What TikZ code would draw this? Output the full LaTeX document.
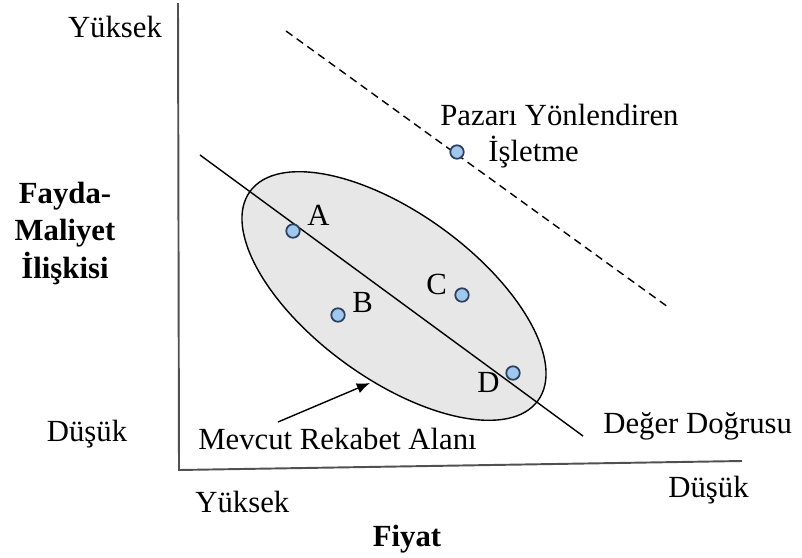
\documentclass[tikz,border=0pt]{standalone}
\usepackage{fontspec}
\setmainfont{Liberation Serif}
\usepackage{tikz}
\usetikzlibrary{positioning, arrows.meta, calc}
\definecolor{noktamavi}{RGB}{160,200,238}
\definecolor{noktakenar}{RGB}{45,65,95}
\definecolor{alangri}{RGB}{231,231,231}
\definecolor{eksengri}{RGB}{80,80,80}

\begin{document}
\begin{tikzpicture}[x=0.02cm, y=-0.02cm,
  yazi/.style={font=\fontsize{17.5}{21}\selectfont, inner sep=0pt},
  kalin/.style={font=\fontsize{17.5}{21.3}\selectfont\bfseries, inner sep=0pt, align=center},
  nokta/.style={circle, draw=noktakenar, fill=noktamavi, line width=1pt, minimum size=0.27cm, inner sep=0pt}]
  \useasboundingbox (0,0) rectangle (802,558);
  \coordinate (yust) at (178,3);
  \coordinate (orijin) at (179,470);
  \coordinate (xsag) at (742,461);
  \draw[eksengri, line width=1.1pt] (yust) -- (orijin) -- (xsag);
  \filldraw[fill=alangri, draw=black, line width=0.8pt, rotate around={-36:(394,296)}] (394,296) ellipse [x radius=3.56cm, y radius=1.66cm];
  \coordinate (dogrubas) at (200,155);
  \coordinate (dogrusonu) at (583,436);
  \draw[line width=0.8pt] (dogrubas) -- (dogrusonu);
  \coordinate (kesikbas) at (286,31);
  \coordinate (kesiksonu) at (668,307);
  \draw[line width=0.8pt, dash pattern=on 4.5pt off 3pt] (kesikbas) -- (kesiksonu);
  \node[nokta] (a) at (293,231) {};
  \node[nokta] (b) at (338,315) {};
  \node[nokta] (c) at (462,295) {};
  \node[nokta] (d) at (513,373) {};
  \node[nokta] (lider) at (457,152) {};
  \node[yazi, anchor=base west] (lblA) at (307,225) {A};
  \node[yazi, anchor=base west] (lblB) at (352,312) {B};
  \node[yazi, anchor=base west] (lblC) at (426,294) {C};
  \node[yazi, anchor=base west] (lblD) at (477,392) {D};
  \node[yazi, anchor=base west] (pazari) at (440,125) {Pazarı Yönlendiren};
  \node[yazi, anchor=base west] (isletme) at (488,161) {İşletme};
  \node[yazi, anchor=base] (yyuksek) at (115,37) {Yüksek};
  \node[kalin, anchor=base] (fayda) at (65,278) {Fayda-\\Maliyet\\İlişkisi};
  \node[yazi, anchor=base] (ydusuk) at (87,441) {Düşük};
  \node[yazi, anchor=base west] (mevcut) at (198,449) {Mevcut Rekabet Alanı};
  \node[yazi, anchor=base west] (deger) at (603,433) {Değer Doğrusu};
  \node[yazi, anchor=base west] (xyuksek) at (195,512) {Yüksek};
  \node[yazi, anchor=base west] (xdusuk) at (668,497) {Düşük};
  \node[kalin, anchor=base] (fiyat) at (407,546) {Fiyat};
  \coordinate (okbas) at (278,422);
  \coordinate (okucu) at (370,383);
  \draw[line width=0.8pt, -{Latex[length=7.5pt, width=6pt]}] (okbas) -- (okucu);
\end{tikzpicture}
\end{document}
